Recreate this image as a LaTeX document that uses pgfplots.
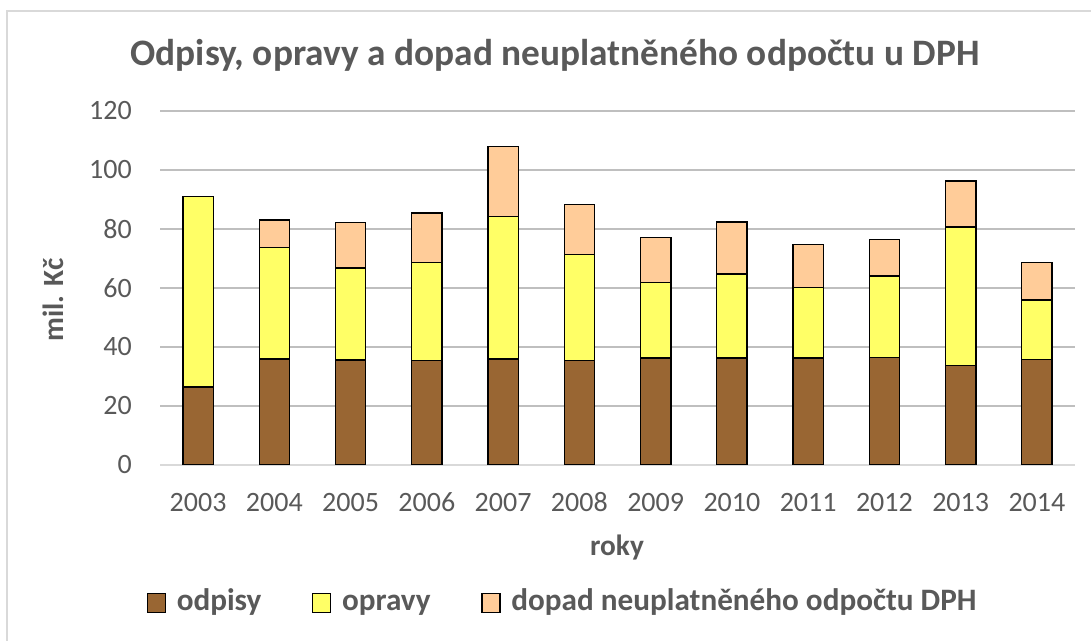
\documentclass[border=0pt]{standalone}
\usepackage{pgfplots}
\pgfplotsset{compat=1.18}
\usepackage{fontspec}
\setmainfont{Carlito}
\definecolor{txt}{HTML}{595959}
\definecolor{grid}{HTML}{D9D9D9}
\definecolor{odp}{HTML}{996633}
\definecolor{opr}{HTML}{FFFF66}
\definecolor{dph}{HTML}{FFCC99}
\begin{document}
\begin{tikzpicture}
\useasboundingbox (0,0) rectangle (818.25pt,480.75pt);
\draw[grid, line width=0.8pt] (5.25pt,0) -- (5.25pt,472.5pt) -- (818.25pt,472.5pt);
\node[text=txt, font=\fontsize{28}{33}\selectfont\bfseries] at (416.25pt,439.5pt) {Odpisy, opravy a dopad neuplatněného odpočtu u DPH};
\begin{axis}[
  at={(120pt,132pt)}, anchor=south west,
  scale only axis, width=686.25pt, height=265.5pt,
  ybar stacked, bar width=22.7pt,
  xmin=-0.5, xmax=11.5, ymin=0, ymax=120,
  xtick={0,...,11},
  xticklabels={2003,2004,2005,2006,2007,2008,2009,2010,2011,2012,2013,2014},
  ytick={0,20,...,120},
  major tick length=0pt,
  axis x line*=bottom, axis y line*=left,
  x axis line style={grid, line width=0.8pt, -},
  y axis line style={draw=none},
  xmajorgrids=false, ymajorgrids=true, major grid style={grid, line width=0.8pt},
  /pgf/number format/assume math mode=true,
  ticklabel style={text=txt, font=\fontsize{21}{25}\selectfont},
  yticklabel style={anchor=east, inner sep=0pt, xshift=-21pt},
  xticklabel style={anchor=base, inner sep=0pt, yshift=-35.25pt},
  ylabel={mil. Kč},
  ylabel style={at={(axis description cs:-0.117,0.466)}, anchor=center, text=txt, font=\fontsize{22}{26}\selectfont\bfseries},
  xlabel={roky},
  xlabel style={at={(axis description cs:0.4995,-0.234)}, anchor=center, text=txt, font=\fontsize{22}{26}\selectfont\bfseries},
  legend columns=3,
  legend style={at={(axis description cs:0.4404,-0.39)}, anchor=center, draw=none, fill=none,
    text=txt, font=\fontsize{23.4}{28}\selectfont\bfseries, inner sep=0pt,
    nodes={text height=16pt, text depth=5pt},
    /tikz/every odd column/.append style={column sep=6pt},
    /tikz/every even column/.append style={column sep=36pt}},
  legend image code/.code={\draw[#1, draw=black, line width=1pt] (0pt,-7pt) rectangle (13.5pt,7pt);},
  every axis plot/.append style={draw=black, line width=1.1pt},
]
\addplot[fill=odp] coordinates {(0,26.4) (1,36.0) (2,35.6) (3,35.5) (4,36.0) (5,35.5) (6,36.3) (7,36.2) (8,36.3) (9,36.4) (10,33.7) (11,35.7)};
\addplot[fill=opr] coordinates {(0,64.6) (1,37.8) (2,31.1) (3,33.2) (4,48.3) (5,35.8) (6,25.5) (7,28.6) (8,23.8) (9,27.6) (10,46.9) (11,20.2)};
\addplot[fill=dph] coordinates {(0,0) (1,9.3) (2,15.5) (3,16.7) (4,23.6) (5,17.0) (6,15.4) (7,17.5) (8,14.6) (9,12.4) (10,15.6) (11,12.7)};
\legend{odpisy, opravy, dopad neuplatněného odpočtu DPH}
\end{axis}
\end{tikzpicture}
\end{document}
